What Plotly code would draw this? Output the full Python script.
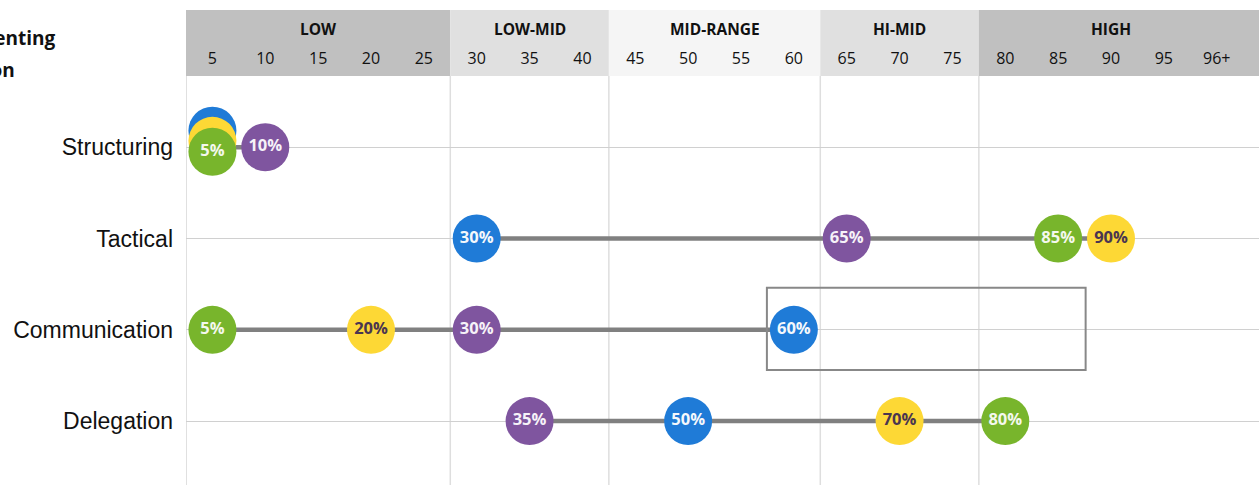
import plotly.graph_objects as go

# Rows (top to bottom) and the score of each colour group per row
rows = ["Structuring", "Tactical", "Communication", "Delegation"]
blue = [5, 30, 60, 50]
yellow = [5, 90, 20, 70]
green = [5, 85, 5, 80]
purple = [10, 65, 30, 35]

# Horizontal scale: tick positions and their labels
tick_vals = [5, 10, 15, 20, 25, 30, 35, 40, 45, 50, 55, 60, 65, 70, 75, 80, 85, 90, 95, 100]
tick_text = ["5", "10", "15", "20", "25", "30", "35", "40", "45", "50",
             "55", "60", "65", "70", "75", "80", "85", "90", "95", "96+"]

# Score bands shown in the header
band_names = ["LOW", "LOW-MID", "MID-RANGE", "HI-MID", "HIGH"]
band_edges = [2.5, 27.5, 42.5, 62.5, 77.5, 104.0]
band_centres = [15, 35, 52.5, 70, 90]
band_fill = ["#c0c0c0", "#e0e0e0", "#f5f5f5", "#e0e0e0", "#c0c0c0"]

series = [
    ("blue", blue, "#1f7bd7", "#f4f8fc"),
    ("yellow", yellow, "#fdd835", "#4a3550"),
    ("green", green, "#78b52c", "#f4f8ee"),
    ("purple", purple, "#7f559f", "#f6f2f8"),
]

# vertical nudge for circles that share the same score in one row
stack_shift = {"blue": -0.18, "yellow": -0.07, "green": 0.05, "purple": 0.0}

X_RANGE = [2.5, 104.0]
Y_RANGE = [3.70, -0.78]

fig = go.Figure()

# grey connector from lowest to highest score in each row
for i, r in enumerate(rows):
    vals = [s[1][i] for s in series]
    fig.add_trace(go.Scatter(
        x=[min(vals), max(vals)], y=[i, i], mode="lines",
        line=dict(color="#808080", width=4.5), hoverinfo="skip", showlegend=False))


def y_positions(name, vals):
    ys = []
    for i, v in enumerate(vals):
        others = [s[1][i] for s in series if s[0] != name]
        ys.append(i + (stack_shift[name] if v in others else 0.0))
    return ys


def labels(idx, vals):
    # only the front-most circle of a stack carries its label
    out = []
    for i, v in enumerate(vals):
        covered = any(s[1][i] == v for s in series[idx + 1:])
        out.append("" if covered else f"{v}%")
    return out


for k, (name, vals, col, tcol) in enumerate(series):
    fig.add_trace(go.Scatter(
        x=vals, y=y_positions(name, vals), mode="markers+text",
        marker=dict(size=48, color=col, line=dict(width=0)),
        text=labels(k, vals), textposition="middle center",
        textfont=dict(family="Open Sans", size=16.5, color=tcol, weight="bold"),
        hoverinfo="skip", showlegend=False, name=name))

shapes = []
H = 409.0
top = 1 + 66 / H
for x0, x1, c in zip(band_edges[:-1], band_edges[1:], band_fill):
    shapes.append(dict(type="rect", xref="x", yref="paper", x0=x0, x1=x1,
                       y0=1, y1=top, fillcolor=c, line=dict(width=0), layer="below"))
for e in band_edges[1:-1]:
    shapes.append(dict(type="line", xref="x", yref="paper", x0=e, x1=e, y0=0, y1=1,
                       line=dict(color="#dedede", width=1.5), layer="below"))
shapes.append(dict(type="line", xref="x", yref="paper", x0=2.5, x1=2.5, y0=0, y1=1,
                   line=dict(color="#d6d6d6", width=1.5), layer="below"))
# highlight box around the Communication high end
shapes.append(dict(type="rect", xref="x", yref="y", x0=57.45, x1=87.6, y0=1.54, y1=2.44,
                   line=dict(color="#888888", width=2), fillcolor="rgba(0,0,0,0)"))

annotations = []
for n, cx in zip(band_names, band_centres):
    annotations.append(dict(text=f"<b>{n}</b>", x=cx, xref="x", y=1 + 47 / H, yref="paper",
                            showarrow=False, font=dict(family="Open Sans", size=15.5, color="#111111"),
                            xanchor="center", yanchor="middle"))
annotations.append(dict(text="<b>Presenting</b>", xref="paper", x=-(186 - 57) / 1073, y=1 + 38 / H,
                        yref="paper", xanchor="right", yanchor="middle", showarrow=False,
                        font=dict(family="Open Sans", size=19, color="#111111")))
annotations.append(dict(text="<b>Dimension</b>", xref="paper", x=-(186 - 17) / 1073, y=1 + 6 / H,
                        yref="paper", xanchor="right", yanchor="middle", showarrow=False,
                        font=dict(family="Open Sans", size=19, color="#111111")))

fig.update_layout(
    width=1259, height=485,
    margin=dict(l=186, r=0, t=76, b=0),
    plot_bgcolor="white", paper_bgcolor="white",
    shapes=shapes, annotations=annotations,
    xaxis=dict(range=X_RANGE, side="top", tickvals=tick_vals, ticktext=tick_text,
               showgrid=False, zeroline=False, ticks="", ticklabelstandoff=8,
               tickfont=dict(family="Open Sans", size=16, color="#111111")),
    yaxis=dict(range=Y_RANGE, tickvals=list(range(len(rows))), ticktext=rows,
               showgrid=True, gridcolor="#d0d0d0", gridwidth=1.2, zeroline=False,
               ticks="", ticklabelstandoff=12,
               tickfont=dict(family="Liberation Sans", size=23, color="#111111")),
)

fig.write_html("out.html")
